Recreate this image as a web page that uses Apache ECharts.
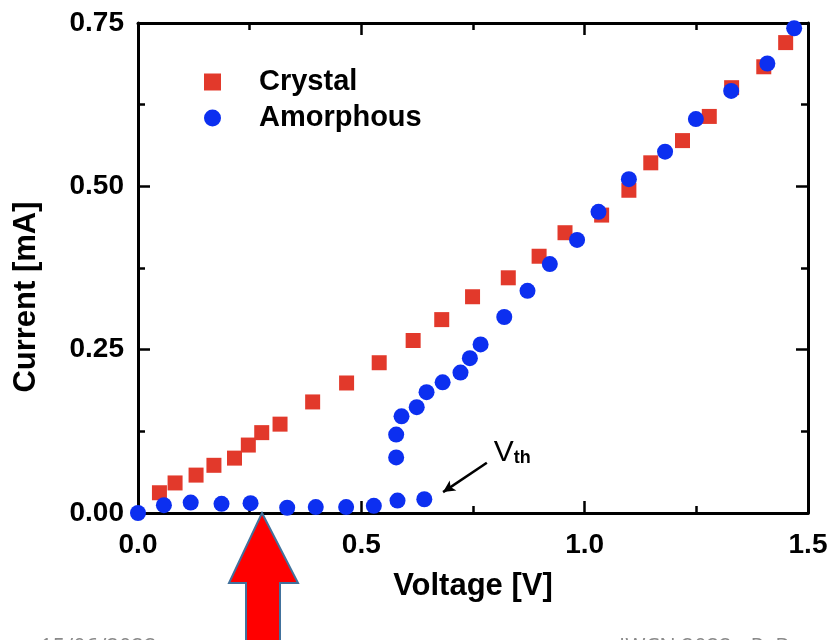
<!DOCTYPE html>
<html>
<head>
<meta charset="utf-8">
<script src="https://cdn.jsdelivr.net/npm/echarts@6/dist/echarts.min.js"></script>
<style>html,body{margin:0;padding:0;background:#fff}#c{width:830px;height:640px}</style>
</head>
<body>
<div id="c"></div>
<script>
// ---- data ----
var crystalV = [0.048,0.083,0.130,0.170,0.216,0.247,0.277,0.318,0.391,0.467,0.540,0.616,0.680,0.749,0.829,0.898,0.956,1.038,1.099,1.148,1.219,1.279,1.329,1.401,1.450];
var crystalI = [0.031,0.046,0.058,0.073,0.084,0.104,0.123,0.136,0.170,0.199,0.230,0.264,0.296,0.331,0.360,0.393,0.429,0.456,0.494,0.536,0.570,0.607,0.651,0.683,0.720];
var amorphV = [0,0.058,0.118,0.187,0.252,0.334,0.398,0.466,0.528,0.581,0.641,0.578,0.578,0.590,0.624,0.646,0.682,0.722,0.743,0.767,0.820,0.872,0.922,0.983,1.031,1.099,1.180,1.249,1.328,1.409,1.469];
var amorphI = [0,0.012,0.016,0.014,0.015,0.008,0.009,0.009,0.011,0.019,0.021,0.085,0.120,0.148,0.162,0.185,0.200,0.215,0.237,0.258,0.300,0.340,0.381,0.418,0.461,0.511,0.553,0.603,0.646,0.688,0.742];
var seriesNames = ['Crystal','Amorphous'];
var xTickLabels = ['0.0','0.5','1.0','1.5'];
var yTickLabels = ['0.00','0.25','0.50','0.75'];
var vthArrow = [[0.781,0.077],[0.683,0.032]];
var vthLabelAt = [0.838,0.093];
var footerLeft = '15/06/2022';
var footerRight = 'IWCN 2022 - P. Bruno';

function pairs(xs, ys){ return xs.map(function(x,i){ return [x, ys[i]]; }); }

var FONT = '"Liberation Sans", Arial, sans-serif';
var chart = echarts.init(document.getElementById('c'), null, {renderer:'canvas'});

var axisCommon = {
  axisLine:{show:true, onZero:false, lineStyle:{color:'#000', width:3}},
  axisTick:{show:true, inside:true, length:12, lineStyle:{color:'#000', width:2.5}},
  minorTick:{show:true, splitNumber:2, length:7, lineStyle:{color:'#000', width:2.5}},
  splitLine:{show:false}
};

function xAx(pos, showLabel){
  return Object.assign({}, axisCommon, {
    type:'value', position:pos, min:0, max:1.5, interval:0.5,
    name: showLabel ? 'Voltage [V]' : '', nameLocation:'middle', nameGap:58,
    nameTextStyle:{fontSize:31, fontWeight:'bold', color:'#000', fontFamily:FONT},
    axisLabel:{show:showLabel, margin:18, fontSize:28, fontWeight:'bold', color:'#000', fontFamily:FONT,
      formatter:function(v){ return xTickLabels[Math.round(v/0.5)]; }}
  });
}
function yAx(pos, showLabel){
  return Object.assign({}, axisCommon, {
    type:'value', position:pos, min:0, max:0.75, interval:0.25,
    name: showLabel ? 'Current [mA]' : '', nameLocation:'middle', nameGap:96, nameRotate:90,
    nameTextStyle:{fontSize:31, fontWeight:'bold', color:'#000', fontFamily:FONT, padding:[0,58,0,0]},
    axisLabel:{show:showLabel, margin:14, fontSize:28, fontWeight:'bold', color:'#000', fontFamily:FONT,
      formatter:function(v){ return yTickLabels[Math.round(v/0.25)]; }}
  });
}

var option = {
  animation:false,
  backgroundColor:'#fff',
  textStyle:{fontFamily:FONT},
  grid:{left:138, right:22, top:23, bottom:127, outerBoundsMode:'none', containLabel:false},
  xAxis:[xAx('bottom', true), xAx('top', false)],
  yAxis:[yAx('left', true), yAx('right', false)],
  legend:{
    show:true, orient:'vertical', left:199, top:62, itemWidth:17, itemHeight:17, itemGap:6,
    data:[{name:seriesNames[0], icon:'rect'},{name:seriesNames[1], icon:'circle'}],
    textStyle:{fontSize:29, fontWeight:'bold', color:'#000', fontFamily:FONT, lineHeight:30, padding:[0,0,0,33]}
  },
  series:[
    {name:seriesNames[0], type:'scatter', xAxisIndex:0, yAxisIndex:0, symbol:'rect', symbolSize:15, clip:false,
     itemStyle:{color:'#e2392b', opacity:1}, data:pairs(crystalV, crystalI)},
    {name:seriesNames[1], type:'scatter', xAxisIndex:0, yAxisIndex:0, symbol:'circle', symbolSize:16, clip:false,
     itemStyle:{color:'#0c2ff0', opacity:1}, data:pairs(amorphV, amorphI),
     markLine:{silent:true, symbol:['none','arrow'], symbolSize:[9,12], animation:false,
       lineStyle:{color:'#000', width:2.5, type:'solid'}, label:{show:false},
       data:[[{coord:vthArrow[0]},{coord:vthArrow[1]}]]},
     markPoint:{silent:true, symbol:'circle', symbolSize:1, itemStyle:{color:'rgba(0,0,0,0)'},
       label:{show:true, position:'inside', formatter:'{v|V}{s|th}',
         rich:{v:{fontSize:30, color:'#000', fontFamily:FONT, verticalAlign:'bottom', lineHeight:30},
               s:{fontSize:18, fontWeight:'bold', color:'#000', fontFamily:FONT, verticalAlign:'bottom', lineHeight:20}}},
       data:[{coord:vthLabelAt}]}
    }
  ],
  graphic:[
    {type:'polygon', z:100, shape:{points:[[262,513],[298,583],[280,583],[280,648],[246,648],[246,583],[229,583]]},
     style:{fill:'#ff0000', stroke:'#41719c', lineWidth:2}},
    {type:'text', left:40, top:637, style:{text:footerLeft, fontSize:22, fill:'#8a8a8a', fontFamily:'"Open Sans", sans-serif'}},
    {type:'text', left:619, top:637, style:{text:footerRight, fontSize:22, fill:'#8a8a8a', fontFamily:'"Open Sans", sans-serif'}}
  ]
};
chart.setOption(option);
</script>
</body>
</html>
